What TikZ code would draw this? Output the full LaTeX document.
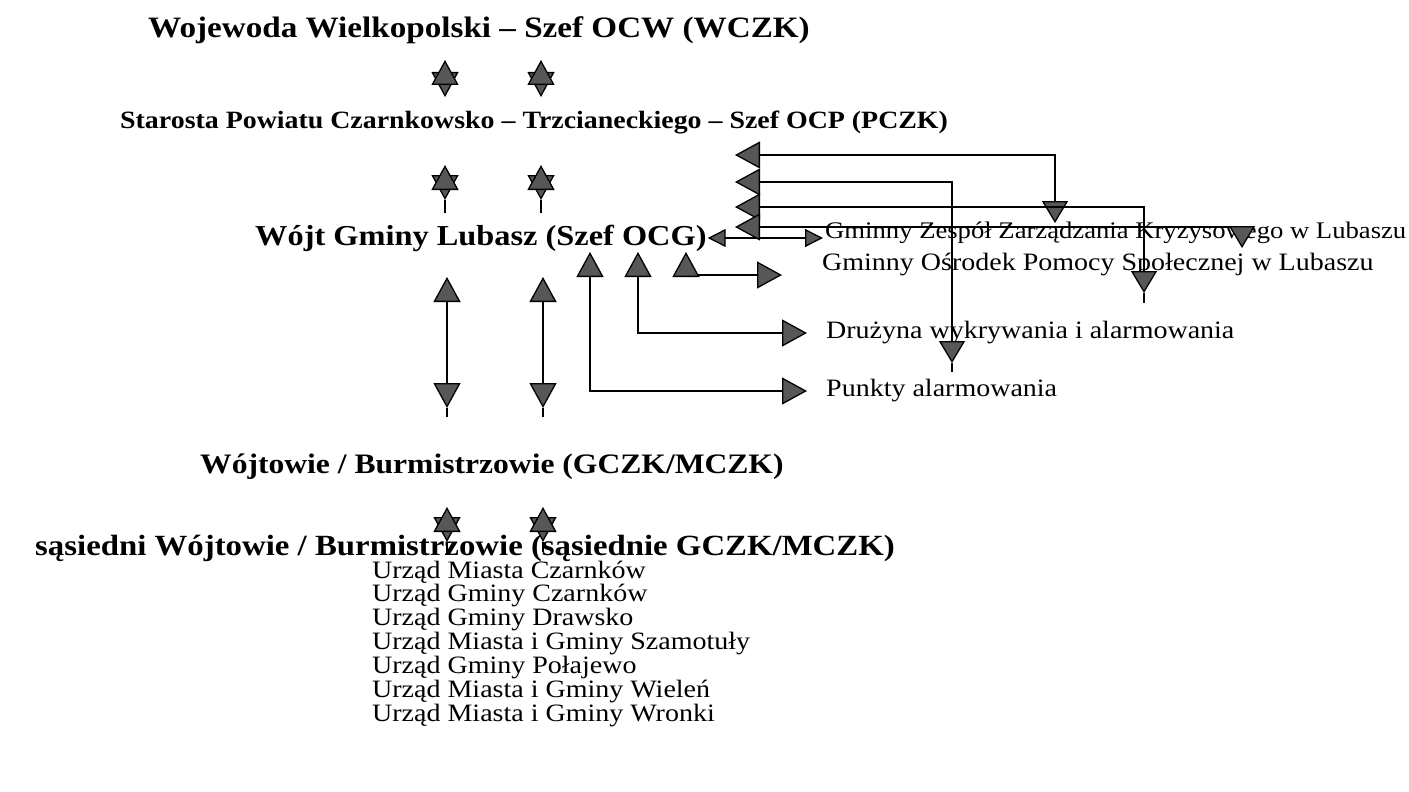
\documentclass[tikz,border=0pt]{standalone}
\usepackage{fontspec}
\setmainfont{Liberation Serif}[FakeStretch=1.12]
\usetikzlibrary{arrows.meta}
\definecolor{tipgray}{gray}{0.34}

\tikzset{
  head/.style={font=\fontsize{#1}{#1}\selectfont\bfseries, anchor=west, inner sep=0pt},
  item/.style={font=\fontsize{#1}{24}\selectfont, anchor=west, inner sep=0pt},
  item/.default=25,
  link/.style={line width=1.3pt, draw=black},
  bigtri/.tip={Triangle[length=25pt,width=27pt,fill=tipgray]},
  midtri/.tip={Triangle[length=22pt,width=26pt,fill=tipgray]},
  smalltri/.tip={Triangle[length=18pt,width=18pt,fill=tipgray]},
}

\begin{document}
\begin{tikzpicture}[x=1pt,y=-1pt]
  \useasboundingbox (0,0) rectangle (1409,792);

  % levels of the chain
  \node[head=29.6] (wczk) at (148,30) {Wojewoda Wielkopolski – Szef OCW (WCZK)};
  \node[head=24.9] (pczk) at (120,122) {Starosta Powiatu Czarnkowsko – Trzcianeckiego – Szef OCP (PCZK)};
  \node[head=28.9] (ocg) at (255,238) {Wójt Gminy Lubasz (Szef OCG)};
  \node[head=28.2] (gczk) at (200,467) {Wójtowie / Burmistrzowie (GCZK/MCZK)};
  \node[head=29.3] (sgczk) at (35,548) {sąsiedni Wójtowie / Burmistrzowie (sąsiednie GCZK/MCZK)};

  % units of the commune
  \node[item=23.8] (gzzk) at (825,233) {Gminny Zespół Zarządzania Kryzysowego w Lubaszu};
  \node[item] (gops) at (822,265) {Gminny Ośrodek Pomocy Społecznej w Lubaszu};
  \node[item] (dwia) at (826,333) {Drużyna wykrywania i alarmowania};
  \node[item] (palm) at (826,391) {Punkty alarmowania};

  % neighbouring offices
  \foreach \txt [count=\i] in {Urząd Miasta Czarnków, Urząd Gminy Czarnków,
      Urząd Gminy Drawsko, Urząd Miasta i Gminy Szamotuły, Urząd Gminy Połajewo,
      Urząd Miasta i Gminy Wieleń, Urząd Miasta i Gminy Wronki}
    \node[item] (urz\i) at (372,548+24*\i) {\txt};

  % vertical double arrows
  \foreach \x in {445,541} {
    \draw[link,bigtri-bigtri] (\x,97) -- (\x,60);
    \draw[link,bigtri-bigtri] (\x,200) -- (\x,165);
    \draw[link] (\x,200) -- (\x,213);
    \draw[link,bigtri-bigtri] (\x+2,277) -- (\x+2,408);
    \draw[link] (\x+2,408) -- (\x+2,417);
    \draw[link,bigtri-bigtri] (\x+2,542) -- (\x+2,507);
    \draw[link] (\x+2,542) -- (\x+2,552);
  }

  % OCG to crisis team
  \draw[link,smalltri-smalltri] ([xshift=1pt]ocg.east) -- ([xshift=-2pt]ocg.east -| gzzk.west);

  % column of arrows on the right
  \foreach \y/\x/\e in {155/1055/223, 182/952/363, 207/1144/293, 227/1242/248}
    \draw[link,bigtri-midtri] (735,\y) -| (\x,\e);
  \draw[link] (952,363) -- (952,372);
  \draw[link] (1144,293) -- (1144,303);

  % arrows below OCG
  \coordinate (up1) at (590,252);
  \coordinate (up2) at (638,252);
  \coordinate (up3) at (686,252);
  \coordinate (free) at (782,275);
  \draw[link,bigtri-bigtri] (up3) |- (free);
  \draw[link,bigtri-bigtri] (up2) |- ([xshift=-19pt]dwia.west);
  \draw[link,bigtri-bigtri] (up1) |- ([xshift=-19pt]palm.west);
\end{tikzpicture}
\end{document}
